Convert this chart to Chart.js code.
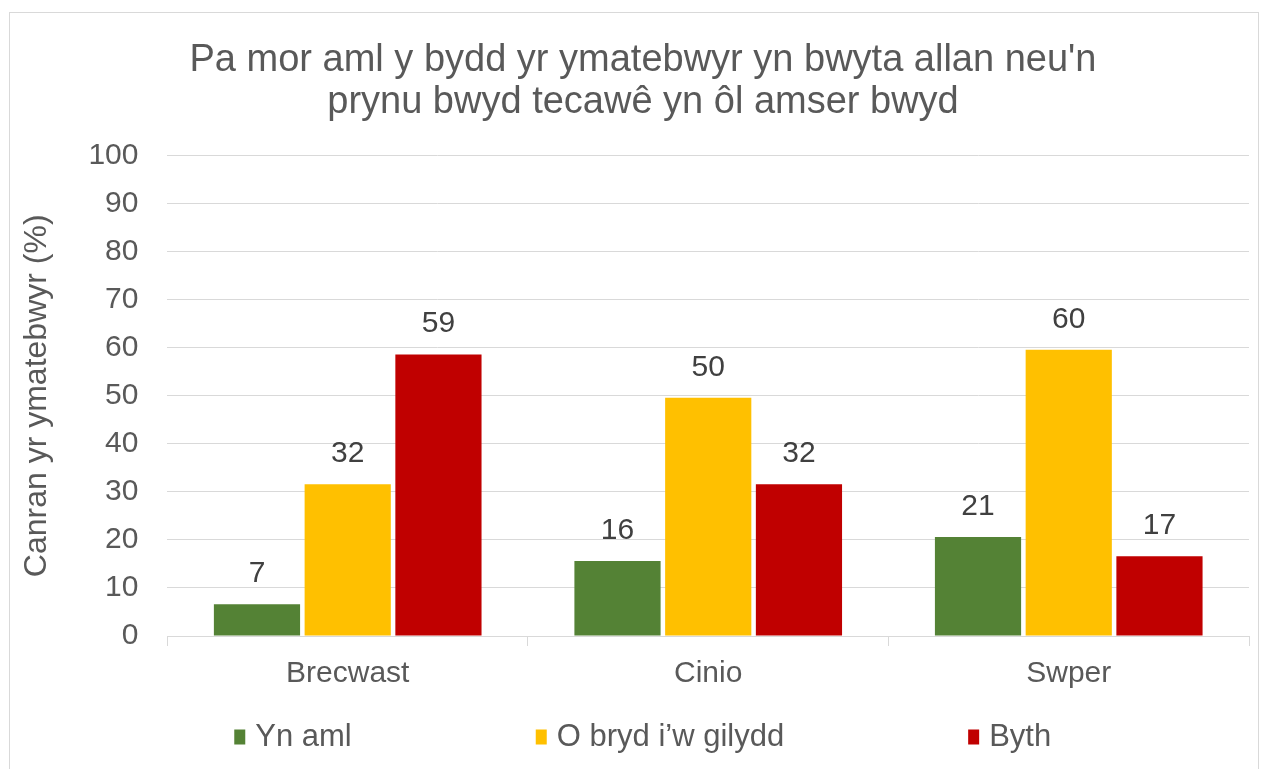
<!DOCTYPE html>
<html>
<head>
<meta charset="utf-8">
<script src="https://cdn.jsdelivr.net/npm/chart.js@4.4.1/dist/chart.umd.min.js"></script>
<style>
  html, body { margin: 0; padding: 0; background: #fff; }
  #wrap { position: relative; width: 1268px; height: 769px; }
</style>
</head>
<body>
<div id="wrap"><canvas id="chart" width="1268" height="769"></canvas></div>
<script>
const categories = ['Brecwast', 'Cinio', 'Swper'];
const seriesNames = ['Yn aml', 'O bryd i\u2019w gilydd', 'Byth'];
const ynAml = [6.6, 15.6, 20.6];
const oBryd = [31.6, 49.6, 59.6];
const byth = [58.6, 31.6, 16.6];
const seriesColors = ['#548235', '#FFC000', '#C00000'];
const yTicks = [0, 10, 20, 30, 40, 50, 60, 70, 80, 90, 100];

const textGrey = '#595959';
const font = 'Liberation Sans, Arial, sans-serif';

// white background + light frame round the chart
const framePlugin = {
    id: 'frame',
    beforeDraw(chart) {
        const ctx = chart.ctx;
        ctx.save();
        ctx.fillStyle = '#fff';
        ctx.fillRect(0, 0, chart.width, chart.height);
        ctx.strokeStyle = '#d9d9d9';
        ctx.lineWidth = 1;
        ctx.strokeRect(9.5, 12.5, 1249, 800);
        ctx.restore();
    }
};

// value labels above each bar
const valueLabels = {
    id: 'valueLabels',
    afterDatasetsDraw(chart) {
        const ctx = chart.ctx;
        ctx.save();
        ctx.font = '30px ' + font;
        ctx.fillStyle = '#404040';
        ctx.textAlign = 'center';
        ctx.textBaseline = 'alphabetic';
        chart.data.datasets.forEach((ds, i) => {
            chart.getDatasetMeta(i).data.forEach((bar, j) => {
                ctx.fillText(Math.round(ds.data[j]), bar.x, bar.y - 22);
            });
        });
        ctx.restore();
    }
};

// legend spread out like the original
const wideLegend = {
    id: 'wideLegend',
    afterDraw(chart) {
        const ctx = chart.ctx;
        const boxW = 11, boxH = 15, gap = 10, spacing = 184;
        ctx.save();
        ctx.font = '31px ' + font;
        const items = chart.data.datasets.map(ds => ({
            text: ds.label, color: ds.backgroundColor, w: ctx.measureText(ds.label).width
        }));
        let total = 0;
        items.forEach((it, i) => { total += boxW + gap + it.w + (i ? spacing : 0); });
        const cx = (chart.chartArea.left - 131 + chart.chartArea.right) / 2;
        let x = cx - total / 2;
        const y = 737;
        ctx.textBaseline = 'middle';
        items.forEach(it => {
            ctx.fillStyle = it.color;
            ctx.fillRect(x, y - boxH / 2, boxW, boxH);
            x += boxW + gap;
            ctx.fillStyle = textGrey;
            ctx.fillText(it.text, x, y);
            x += it.w + spacing;
        });
        ctx.restore();
    }
};

new Chart(document.getElementById('chart'), {
    type: 'bar',
    data: {
        labels: categories,
        datasets: [
            { label: seriesNames[0], data: ynAml, backgroundColor: seriesColors[0] },
            { label: seriesNames[1], data: oBryd, backgroundColor: seriesColors[1] },
            { label: seriesNames[2], data: byth, backgroundColor: seriesColors[2] }
        ]
    },
    options: {
        responsive: false,
        animation: false,
        layout: { padding: { top: 40, left: 37, right: 19, bottom: 67 } },
        datasets: {
            bar: { barPercentage: 0.95, categoryPercentage: 0.755 }
        },
        plugins: {
            legend: { display: false },
            tooltip: { enabled: false },
            title: {
                display: true,
                text: ["Pa mor aml y bydd yr ymatebwyr yn bwyta allan neu'n", 'prynu bwyd tecaw\u00ea yn \u00f4l amser bwyd'],
                color: textGrey,
                font: { family: font, size: 38, weight: 'normal', lineHeight: 1.1 },
                padding: { top: 0, bottom: 32 }
            }
        },
        scales: {
            x: {
                offset: true,
                grid: {
                    offset: true,
                    drawOnChartArea: false,
                    drawTicks: true,
                    tickLength: 10,
                    color: '#d9d9d9'
                },
                border: { color: '#d9d9d9' },
                ticks: {
                    color: textGrey,
                    padding: 10,
                    maxRotation: 0,
                    font: { family: font, size: 30 }
                }
            },
            y: {
                min: 0,
                max: 100,
                afterBuildTicks(scale) {
                    scale.ticks = yTicks.map(v => ({ value: v }));
                },
                grid: { color: '#d9d9d9', drawTicks: false },
                border: { display: false },
                ticks: {
                    color: textGrey,
                    padding: 29,
                    font: { family: font, size: 30 }
                },
                title: {
                    display: true,
                    text: 'Canran yr ymatebwyr (%)',
                    color: textGrey,
                    font: { family: font, size: 32 },
                    padding: { top: -19, bottom: 3 }
                }
            }
        }
    },
    plugins: [framePlugin, valueLabels, wideLegend]
});
</script>
</body>
</html>
